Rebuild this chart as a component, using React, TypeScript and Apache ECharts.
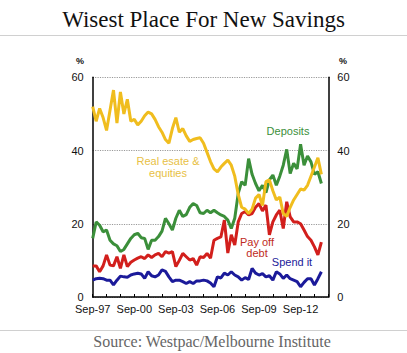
import React, { useEffect, useRef } from "react";
import * as echarts from "echarts";

// Quarterly survey, Sep-97 .. Mar-14 (%)
const realEstate = [
  52, 48, 51.5, 49, 45.5, 51, 56.5, 47.5, 56, 50, 54, 48, 48.5, 47, 48, 49.5,
  50.5, 50, 48.5, 46.5, 45, 43, 42, 46, 49, 45, 46, 44, 42.5, 43, 43.3, 43.5,
  42, 39.5, 37, 35, 34.2, 35.5, 36.5, 37.4, 36, 33, 28, 24.5, 24, 22.8, 24, 27,
  28, 25, 31.5, 32, 29, 26.5, 27.3, 22.8, 22, 24.5, 26.5, 28, 29.5, 29.2, 30.5,
  33, 35.5, 38, 33.5,
];
const deposits = [
  16, 20.5, 19.6, 17.8, 18.3, 15.5, 14.5, 14, 12.4, 13, 14.5, 16, 17, 17.4,
  16.2, 16, 13, 15.5, 15.5, 16.5, 18, 21.5, 20, 18.3, 21.5, 23.7, 22, 22.5,
  24.5, 25.5, 25, 23, 22.8, 23.7, 23, 23.7, 23, 22.4, 22, 21, 18.7, 21.5, 28.3,
  31.5, 30.5, 37.8, 33.5, 31, 29, 30.5, 28.5, 32, 33.3, 30.5, 33, 36, 40.3,
  33.7, 36.5, 35, 41.7, 36, 38.5, 36.9, 33.5, 34.2, 31,
];
const payOffDebt = [
  8.5, 8.5, 6.9, 8.5, 11.5, 8.7, 8.5, 11, 7.8, 11.5, 8.3, 9.5, 10.1, 10.6, 11,
  10.5, 11.5, 10.8, 11.5, 11.9, 11, 12.4, 12, 12.4, 8.3, 10, 11.9, 11, 10.1,
  10.5, 8.7, 11, 10.8, 11.9, 10.6, 15.5, 16, 16.4, 21, 12, 17, 14.2, 20.5, 22.8,
  23.3, 22.4, 22.8, 24.5, 25.5, 23.5, 25.1, 17, 20.5, 22.4, 23.7, 18.7, 26,
  21.9, 20.5, 20.5, 20, 18.3, 16.5, 15.5, 13.7, 11.5, 15,
];
const spendIt = [
  4.6, 5, 5.1, 5, 4.6, 4.6, 3.3, 4.6, 5.7, 5.5, 5.4, 6, 6.3, 6.5, 6.3, 5.1, 6.9,
  5.8, 5.5, 6, 7.4, 7, 5.5, 4.2, 4.6, 4.6, 4.2, 3.7, 4.2, 3.7, 4.4, 4.4, 4.6,
  4.4, 3.8, 2.8, 5.5, 5.2, 6.5, 6, 6.9, 6, 5.5, 4.6, 5.3, 4.8, 7.8, 6.5, 6, 6.4,
  5.5, 5.8, 4.6, 6.9, 6.3, 5.1, 6, 5, 4.6, 4.2, 2.8, 4, 5, 5, 3.3, 5, 6.9,
];

const months = ["Sep", "Dec", "Mar", "Jun"];
// Axis runs Sep-97 .. Sep-14 (69 quarters)
const quarters: string[] = [];
for (let i = 0; i < 69; i++) {
  const m = months[i % 4];
  const y = m === "Mar" || m === "Jun" ? 1997 + Math.floor(i / 4) + 1 : 1997 + Math.floor(i / 4);
  quarters.push(m + "-" + String(y % 100).padStart(2, "0"));
}

const yTicks = [0, 20, 40, 60];

const COLORS = {
  realEstate: "#f0bd1e",
  deposits: "#3b8f3a",
  payOffDebt: "#d21f1c",
  spendIt: "#1b1a9a",
};

export default function App() {
  const ref = useRef<HTMLDivElement>(null);
  useEffect(() => {
    if (!ref.current) return;
    const chart = echarts.init(ref.current, null, { renderer: "svg" });
    const sans = "Liberation Sans, Arial, sans-serif";
    const serif = "Liberation Serif, Times New Roman, serif";
    const line = (name: string, data: number[], color: string) => ({
      name,
      type: "line",
      data,
      showSymbol: false,
      symbol: "none",
      lineStyle: { color, width: 3 },
      itemStyle: { color },
    });
    chart.setOption({
      animation: false,
      backgroundColor: "#ffffff",
      grid: { left: 92.7, right: 78.7, top: 77.3, bottom: 56, containLabel: false },
      xAxis: {
        type: "category",
        data: quarters,
        boundaryGap: false,
        axisLine: { lineStyle: { color: "#000", width: 1.5 } },
        axisTick: { show: true, inside: true, length: 3, interval: 3, lineStyle: { color: "#000" } },
        axisLabel: {
          interval: 11,
          color: "#111",
          fontFamily: sans,
          fontSize: 11,
          margin: 6,
          formatter: (v: string) => (v.startsWith("Sep") ? v : ""),
        },
        splitLine: { show: false },
      },
      yAxis: [
        {
          type: "value",
          min: yTicks[0],
          max: yTicks[yTicks.length - 1],
          interval: 20,
          position: "left",
          axisLine: { show: true, lineStyle: { color: "#000", width: 1.5 } },
          axisTick: { show: false },
          axisLabel: { color: "#111", fontFamily: sans, fontSize: 11, margin: 9 },
          splitLine: { show: true, lineStyle: { color: "#999", type: "dotted", width: 1.2 } },
        },
        {
          type: "value",
          min: yTicks[0],
          max: yTicks[yTicks.length - 1],
          interval: 20,
          position: "right",
          axisLine: { show: true, lineStyle: { color: "#000", width: 1.5 } },
          axisTick: { show: false },
          axisLabel: { color: "#111", fontFamily: sans, fontSize: 11, margin: 9 },
          splitLine: { show: false },
        },
      ],
      series: [
        line("Spend it", spendIt, COLORS.spendIt),
        line("Pay off debt", payOffDebt, COLORS.payOffDebt),
        line("Deposits", deposits, COLORS.deposits),
        line("Real estate & equities", realEstate, COLORS.realEstate),
      ],
      graphic: [
        {
          type: "text",
          left: "center",
          top: 8,
          style: { text: "Wisest Place For New Savings", font: "23px " + serif, fill: "#111" },
        },
        { type: "line", shape: { x1: 0, y1: 35.5, x2: 407, y2: 35.5 }, style: { stroke: "#d0d0d0", lineWidth: 1 } },
        { type: "line", shape: { x1: 0, y1: 330.5, x2: 407, y2: 330.5 }, style: { stroke: "#d0d0d0", lineWidth: 1 } },
        {
          type: "text",
          x: 212,
          y: 341,
          style: {
            text: "Source: Westpac/Melbourne Institute",
            font: "16px " + serif,
            fill: "#666",
            align: "center",
            verticalAlign: "middle",
          },
        },
        { type: "text", x: 80, y: 61, style: { text: "%", font: "bold 9px " + sans, fill: "#111", align: "center", verticalAlign: "middle" } },
        { type: "text", x: 343, y: 61, style: { text: "%", font: "bold 9px " + sans, fill: "#111", align: "center", verticalAlign: "middle" } },
        {
          type: "text",
          x: 168,
          y: 167,
          style: { text: "Real esate &\nequities", font: "11px " + sans, fill: "#e8bf45", align: "center", verticalAlign: "middle", lineHeight: 12 },
        },
        { type: "text", x: 288, y: 131, style: { text: "Deposits", font: "11px " + sans, fill: "#3b8f3a", align: "center", verticalAlign: "middle" } },
        {
          type: "text",
          x: 257,
          y: 247,
          style: { text: "Pay off\ndebt", font: "11px " + sans, fill: "#c02a22", align: "center", verticalAlign: "middle", lineHeight: 11 },
        },
        { type: "text", x: 292, y: 262, style: { text: "Spend it", font: "11px " + sans, fill: "#1b1a9a", align: "center", verticalAlign: "middle" } },
      ],
    });
    return () => chart.dispose();
  }, []);
  return (
    <div
      ref={ref}
      style={{ position: "fixed", left: 0, top: 0, width: 407, height: 353 }}
    />
  );
}
